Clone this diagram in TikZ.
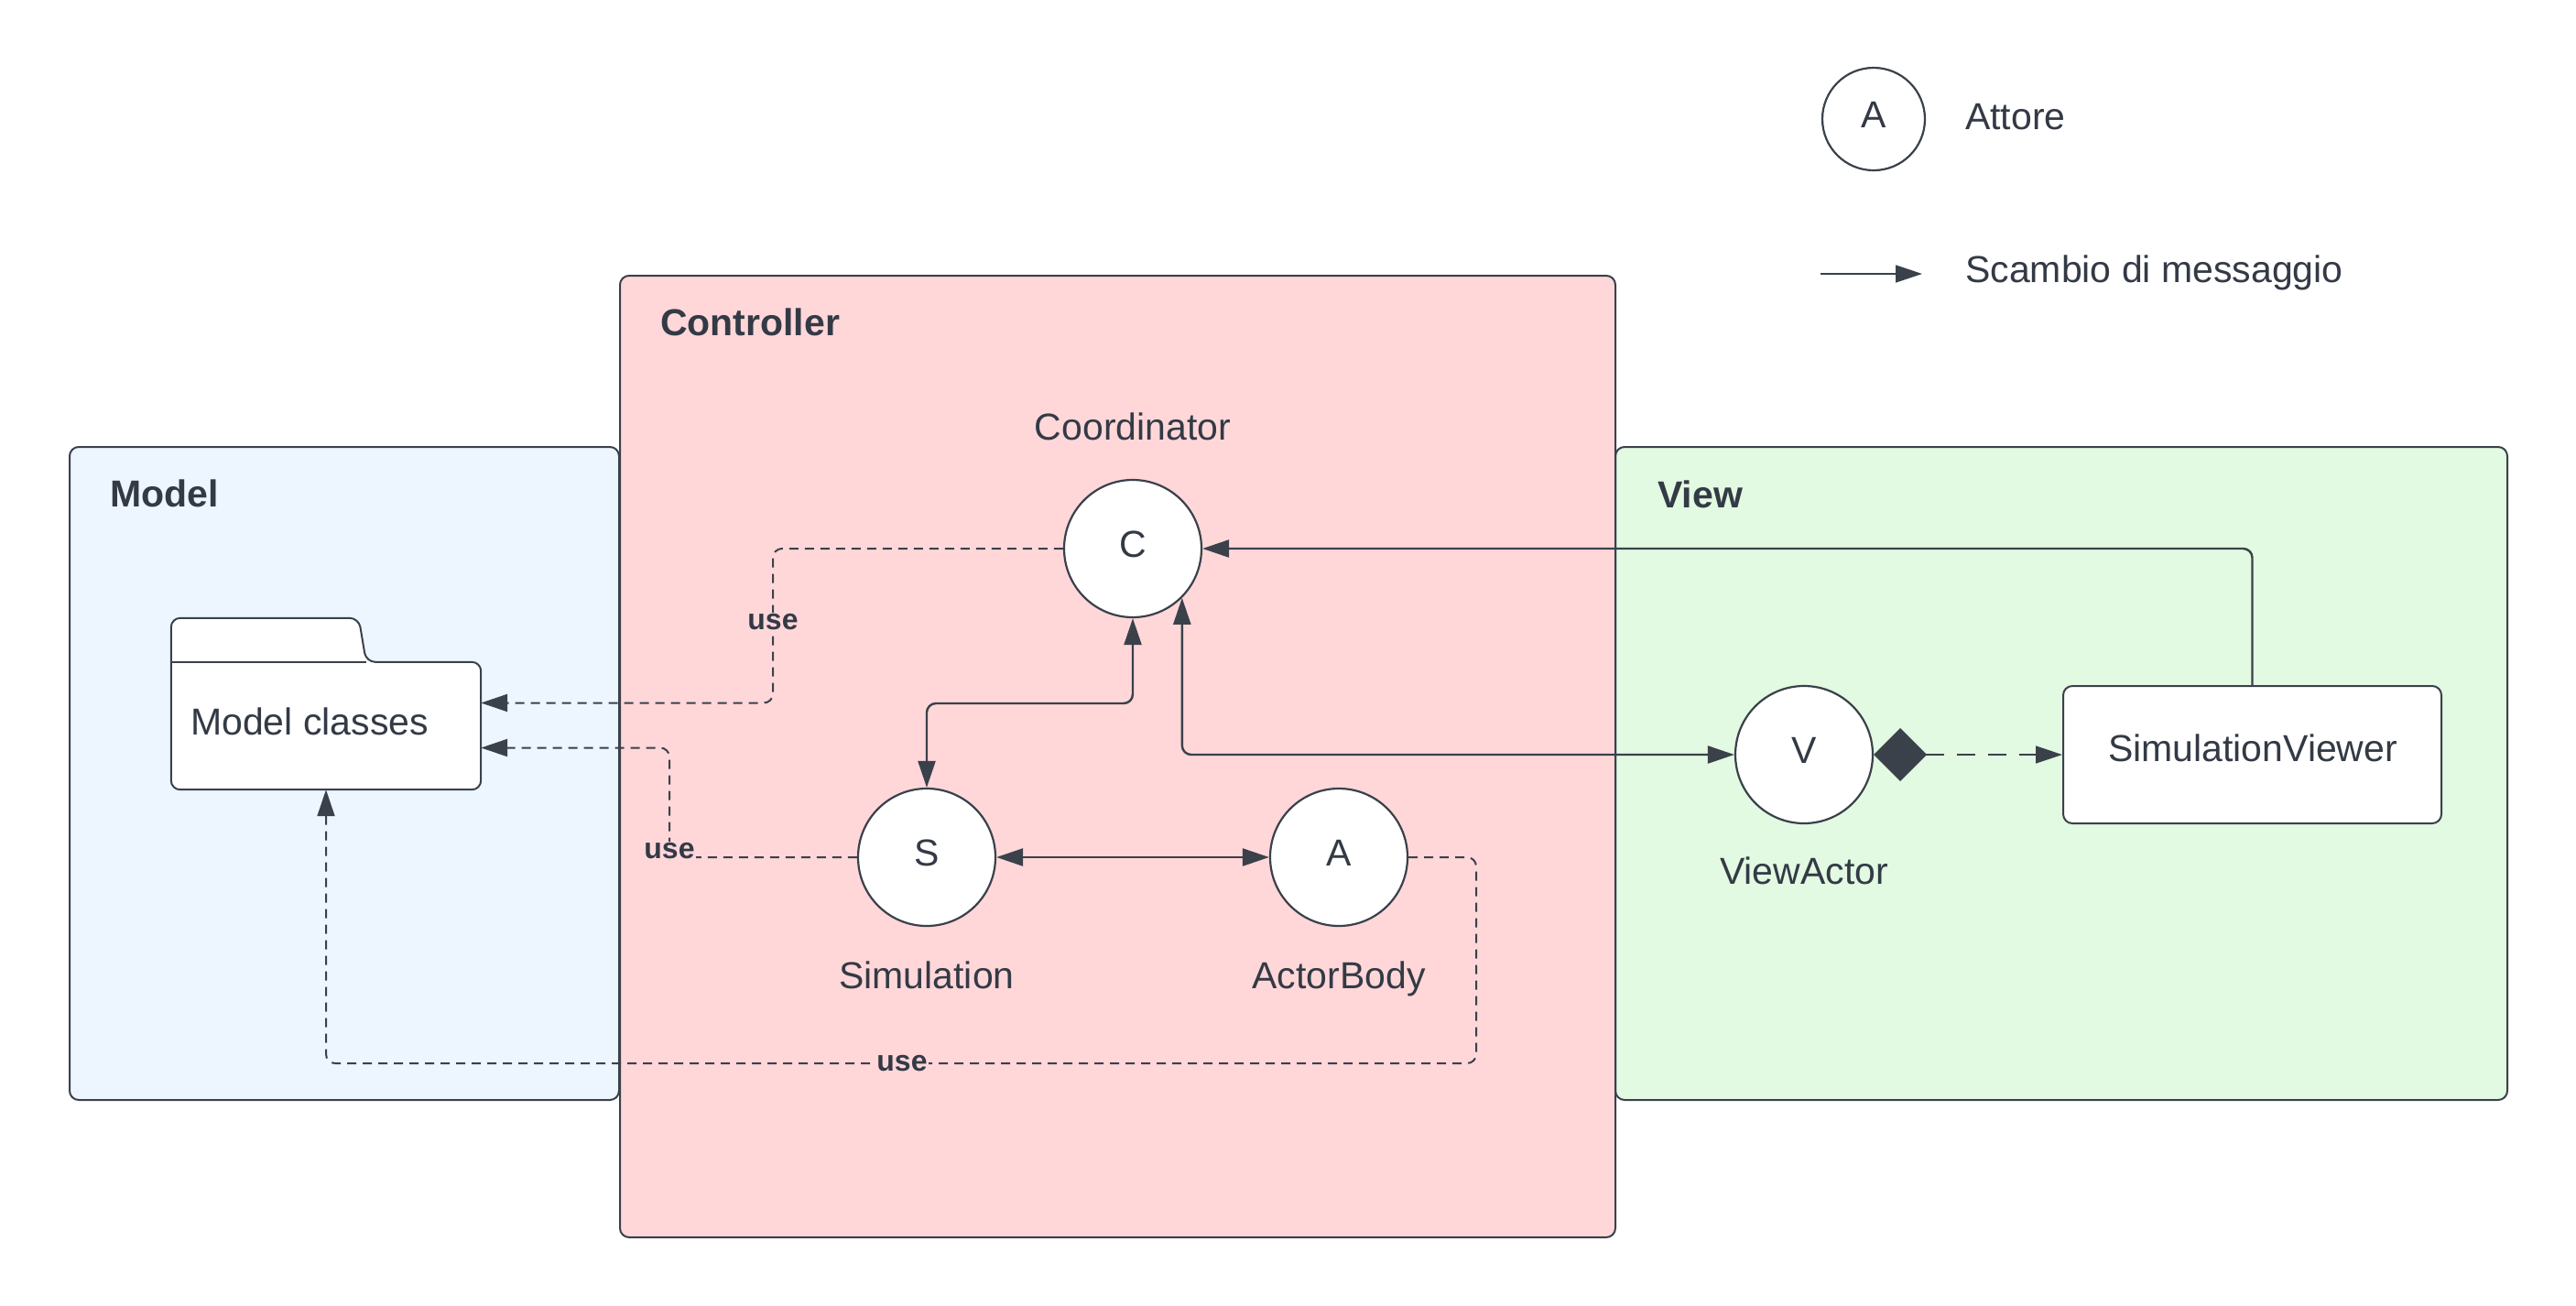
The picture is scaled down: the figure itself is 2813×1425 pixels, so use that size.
\documentclass[tikz,border=0pt]{standalone}
\usepackage{fontspec}
\setmainfont{Liberation Sans}
\usetikzlibrary{arrows.meta,calc}
\definecolor{ln}{HTML}{3A414A}
\definecolor{tx}{HTML}{333A45}
\definecolor{mfill}{HTML}{EDF5FF}
\definecolor{cfill}{HTML}{FFD7D9}
\definecolor{vfill}{HTML}{E2F9E2}
\begin{document}
\begin{tikzpicture}[x=1pt,y=-1pt,
  font=\fontsize{41}{49}\selectfont, text=tx,
  >={Triangle[length=29pt,width=19pt]},
  region/.style={draw=ln, line width=2pt, rounded corners=10pt, inner sep=0pt, anchor=north west},
  title/.style={font=\fontsize{41}{49}\selectfont\bfseries, inner sep=0pt, anchor=base west},
  lbl/.style={inner sep=0pt, anchor=base},
  lblw/.style={inner sep=0pt, anchor=base west},
  actor/.style={circle, draw=ln, fill=white, line width=2.2pt, minimum size=150pt, inner sep=0pt, text height=31pt, text depth=12pt},
  conn/.style={draw=ln, line width=2.4pt, rounded corners=10pt},
  useline/.style={draw=ln, line width=2pt, rounded corners=10pt, dash pattern=on 10pt off 7pt},
  uselbl/.style={font=\fontsize{32}{38}\selectfont\bfseries, fill=cfill, inner sep=1pt},
  whitebox/.style={draw=ln, fill=white, line width=2pt, rounded corners=10pt, inner sep=0pt}
]
\useasboundingbox (0,0) rectangle (2813,1425);
\fill[white] (0,0) rectangle (2813,1425);

% regions
\node[region, fill=mfill, minimum width=600pt, minimum height=713pt] (model) at (75,487) {};
\node[region, fill=vfill, minimum width=974pt, minimum height=713pt] (view) at (1763,487) {};
\node[region, fill=cfill, minimum width=1087pt, minimum height=1050pt] (ctrl) at (676,300) {};

\node[title] (modelt) at (120,553) {Model};
\node[title] (ctrlt) at (721,366) {Controller};
\node[title] (viewt) at (1810,554) {View};

% folder
\node[minimum width=338pt, minimum height=139pt, inner sep=0pt] (mc) at (356,792.5) {};
\draw[whitebox] (mc.south west) -- ($(mc.north west)+(0,-48)$) -- ($(mc.north west)+(205,-48)$) -- ($(mc.north west)+(213,0)$) -- (mc.north east) -- (mc.south east) -- cycle;
\draw[draw=ln, line width=2pt] (mc.north west) -- ($(mc.north west)+(213,0)$);
\node[lblw] (mct) at (208,802) {Model classes};

% actors
\node[actor] (C) at (1237,599) {C};
\node[actor] (S) at (1012,936) {S};
\node[actor] (A) at (1462,936) {A};
\node[actor] (V) at (1970,824) {V};
\node[whitebox, minimum width=413pt, minimum height=150pt] (sv) at (2459.5,824) {};

\node[lbl] (Ct) at (1237,480) {Coordinator};
\node[lbl] (St) at (1012,1079) {Simulation};
\node[lbl] (At) at (1462,1079) {ActorBody};
\node[lbl] (Vt) at (1970,965) {ViewActor};
\node[lbl] (svt) at (2460,831) {SimulationViewer};

% legend
\node[actor, minimum size=112pt] (LA) at (2046,130) {A};
\node[lblw] (LAt) at (2146,141) {Attore};
\coordinate (la1) at (1988,299);
\coordinate (la2) at (2099,299);
\draw[draw=ln, line width=1.5pt, ->] (la1) -- (la2);
\node[lblw] (LMt) at (2146,308) {Scambio di messaggio};

% junction coordinates
\coordinate (j1) at (844,679);
\coordinate (j2) at (731,929);
\coordinate (j3) at (1612,1161);
\coordinate (ju3) at (985,1161);
\coordinate (j5) at (1124,768);

% use (dashed) connectors
\draw[useline, ->] (C.west) -| (j1) |- ([yshift=25pt]mc.east);
\draw[useline, ->] (S.west) -| (j2) |- ([yshift=-24pt]mc.east);
\draw[useline, ->] (A.east) -| (j3) -| (mc.south);
\node[uselbl] at (j1) {use};
\node[uselbl] at (j2) {use};
\node[uselbl] at (ju3) {use};

% message connectors
\draw[conn, <->] (C.south) |- (j5) -| (S.north);
\draw[conn, <->] (S.east) -- (A.west);
\draw[conn, <->] (C.south east) |- (V.west);
\draw[conn, ->] (sv.north) |- (C.east);
\draw[draw=ln, line width=1.6pt, dash pattern=on 20pt off 14pt, {Diamond[length=58pt,width=58pt]}-{Triangle[length=29pt,width=19pt]}] (V.east) -- (sv.west);
\end{tikzpicture}
\end{document}
